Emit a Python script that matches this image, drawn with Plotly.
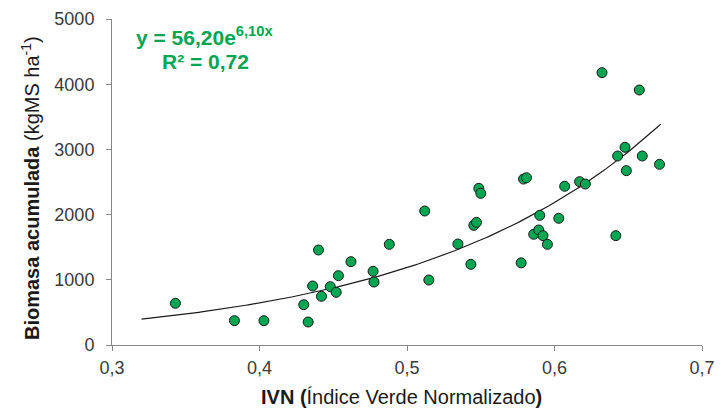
import numpy as np
import plotly.graph_objects as go

ivn = [0.343, 0.383, 0.403, 0.430, 0.433, 0.436, 0.440, 0.442, 0.448, 0.452, 0.4535, 0.462,
       0.477, 0.4776, 0.488, 0.512, 0.5148, 0.5345, 0.5433, 0.5453, 0.5471, 0.5487, 0.550,
       0.5774, 0.579, 0.581, 0.5859, 0.5893, 0.590, 0.5922, 0.5952, 0.6029, 0.6069, 0.617,
       0.6209, 0.6322, 0.6416, 0.6428, 0.6478, 0.6487, 0.6575, 0.6595, 0.6712]
biomasa = [640, 373, 373, 618, 353, 905, 1457, 747, 894, 808, 1063, 1278,
           1130, 966, 1544, 2055, 997, 1549, 1237, 1835, 1881, 2403, 2326,
           1260, 2545, 2565, 1698, 1764, 1989, 1677, 1544, 1943, 2434, 2505,
           2469, 4177, 1677, 2899, 3032, 2674, 3911, 2899, 2771]

coef_a = 56.20
coef_b = 6.10
trend_range = [0.32, 0.672]

x_ticks = [0.3, 0.4, 0.5, 0.6, 0.7]
x_labels = ["0,3", "0,4", "0,5", "0,6", "0,7"]
y_ticks = [0, 1000, 2000, 3000, 4000, 5000]

tx = np.linspace(trend_range[0], trend_range[1], 200)
ty = coef_a * np.exp(coef_b * tx)

FONT = "Liberation Sans, Arial, sans-serif"

fig = go.Figure()
fig.add_trace(go.Scatter(x=tx, y=ty, mode="lines",
                         line=dict(color="#1a1a1a", width=1.2), hoverinfo="skip"))
fig.add_trace(go.Scatter(x=ivn, y=biomasa, mode="markers",
                         marker=dict(size=10, color="#00a651",
                                     line=dict(color="#1a1a1a", width=1))))

tick_font = dict(family=FONT, size=18, color="#3a3a3a")
L, R, T, B = 112, 25, 19, 65
PW, PH = 727 - L - R, 410 - T - B

fig.update_layout(
    width=727, height=410,
    margin=dict(l=L, r=R, t=T, b=B),
    plot_bgcolor="white", paper_bgcolor="white",
    showlegend=False,
    font=tick_font,
    xaxis=dict(range=[0.3, 0.7], tickvals=x_ticks, ticktext=x_labels,
               showgrid=False, zeroline=False, showline=True, linecolor="#868686",
               linewidth=1, ticks="outside", ticklen=5, tickcolor="#868686",
               tickfont=tick_font, automargin=False, ticklabelstandoff=1),
    yaxis=dict(range=[0, 5000], tickvals=y_ticks,
               showgrid=False, zeroline=False, showline=True, linecolor="#868686",
               linewidth=1, ticks="outside", ticklen=5, tickcolor="#868686",
               tickfont=tick_font, automargin=False, ticklabelstandoff=8),
)

title_font = dict(family=FONT, size=20, color="#1a1a1a")
# x-axis title
fig.add_annotation(xref="paper", yref="paper", x=(401 - L) / PW, y=(410 - B - 397) / PH,
                   xanchor="center", yanchor="middle", showarrow=False,
                   text="<b>IVN (</b>Índice Verde Normalizado<b>)</b>", font=title_font)
# y-axis title
fig.add_annotation(xref="paper", yref="paper", x=(30 - L) / PW, y=(410 - B - 188) / PH,
                   xanchor="center", yanchor="middle", showarrow=False, textangle=-90,
                   text="<b>Biomasa acumulada</b> (kgMS ha<sup>-1</sup>)", font=title_font)

green = "#00a651"
eq_font = dict(family=FONT, size=21, color=green)
fig.add_annotation(xref="paper", yref="paper", x=(204 - L) / PW, y=(410 - B - 36) / PH,
                   xanchor="center", yanchor="middle",
                   text="<b>y = 56,20e<sup>6,10x</sup></b>", showarrow=False, font=eq_font)
fig.add_annotation(xref="paper", yref="paper", x=(205 - L) / PW, y=(410 - B - 61) / PH,
                   xanchor="center", yanchor="middle",
                   text="<b>R² = 0,72</b>", showarrow=False, font=eq_font)

fig.write_html("out.html", config={"displayModeBar": False},
               post_script="document.body.style.margin='0px';document.body.style.overflow='hidden';")
